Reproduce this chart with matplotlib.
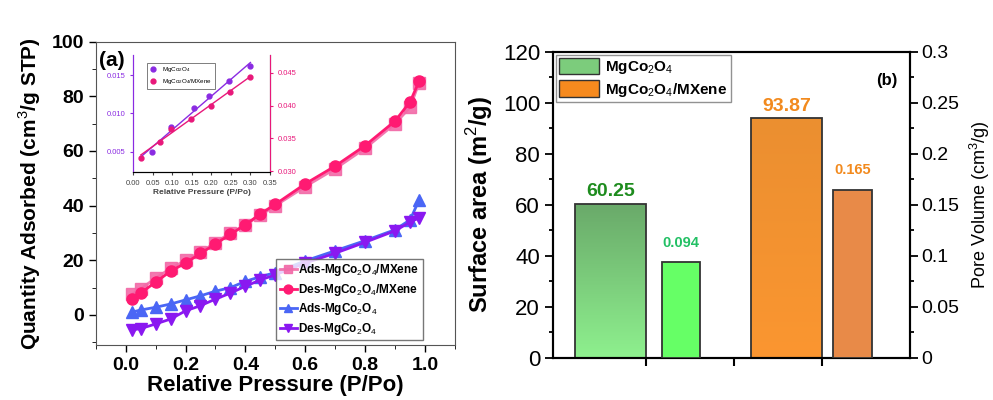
import numpy as np
import matplotlib
matplotlib.use("Agg")
import matplotlib.pyplot as plt
from matplotlib.colors import LinearSegmentedColormap
from matplotlib.patches import Patch

plt.rcParams['font.family'] = ['Liberation Sans', 'DejaVu Sans']
plt.rcParams['mathtext.fontset'] = 'custom'
plt.rcParams['mathtext.rm'] = 'Liberation Sans'
plt.rcParams['mathtext.bf'] = 'Liberation Sans:bold'

# isotherm data (panel a)
p = [0.02, 0.05, 0.1, 0.15, 0.2, 0.25, 0.3, 0.35, 0.4, 0.45, 0.5, 0.6, 0.7, 0.8, 0.9, 0.95, 0.98]
ads_mx = [7.5, 9.5, 13.5, 17, 20, 23, 26.5, 30, 33, 36.5, 40, 47, 53.5, 61, 70, 76, 85]
des_mx = [6, 8, 12, 16, 19, 22.5, 26, 29.5, 33, 37, 40.5, 48, 54.5, 62, 71, 78, 85.5]
ads_mg = [1, 1.8, 2.8, 4, 5.5, 7, 8.7, 10, 12.3, 14, 15.5, 19.8, 23.5, 27.2, 31.2, 34.8, 42]
des_mg = [-5.5, -5, -3.3, -1.5, 1.5, 3.4, 5.8, 8, 10.5, 12.8, 14.7, 19, 22.6, 26.6, 30.8, 34, 35.5]

# inset BET data
bet_x_mg = [0.049, 0.098, 0.156, 0.195, 0.246, 0.299]
bet_y_mg = [0.0050, 0.0082, 0.01065, 0.0123, 0.01426, 0.0162]
bet_x_mx = [0.021, 0.068, 0.098, 0.147, 0.198, 0.248, 0.299]
bet_y_mx = [0.0321, 0.0345, 0.0365, 0.0380, 0.0400, 0.0420, 0.0444]

# panel b
surface_area = [60.25, 93.87]
pore_volume = [0.094, 0.165]
samples = ['MgCo$_2$O$_4$', 'MgCo$_2$O$_4$/MXene']

fig = plt.figure(figsize=(9.93, 4.0), dpi=100)

# ---------- panel (a) ----------
ax = fig.add_axes([95.7/993, 1-345/400, (455-95.7)/993, (345-41.7)/400])
ax.plot(p, ads_mx, '-s', color='#f26aa8', ms=8, lw=2, alpha=0.9, label='Ads-MgCo$_2$O$_4$/MXene')
ax.plot(p, des_mx, '-o', color='#ff1a72', ms=8, lw=2, label='Des-MgCo$_2$O$_4$/MXene')
ax.plot(p, ads_mg, '-^', color='#4a66f5', ms=8, lw=2, label='Ads-MgCo$_2$O$_4$')
ax.plot(p, des_mg, '-v', color='#8a18f0', ms=8, lw=2, label='Des-MgCo$_2$O$_4$')
ax.set_xlim(-0.1, 1.1)
ax.set_ylim(-11, 100)
ax.set_xticks([0, 0.2, 0.4, 0.6, 0.8, 1.0])
ax.set_xticks(np.arange(-0.1, 1.1, 0.1), minor=True)
ax.set_yticks([0, 20, 40, 60, 80, 100])
ax.set_yticks([-10, 10, 30, 50, 70, 90], minor=True)
ax.tick_params(direction='out', labelsize=14, width=1, length=5)
ax.tick_params(which='minor', direction='out', length=3)
for lab in ax.get_xticklabels() + ax.get_yticklabels():
    lab.set_fontweight('bold')
for s in ax.spines.values():
    s.set_color('#555555')
ax.set_xlabel('Relative Pressure (P/Po)', fontsize=16, fontweight='bold', labelpad=1)
ax.set_ylabel('Quantity Adsorbed (cm$^3$/g STP)', fontsize=15, fontweight='bold', labelpad=6)
ax.text(0.01, 0.97, '(a)', transform=ax.transAxes, fontsize=15, fontweight='bold', va='top')
leg = ax.legend(loc='lower right', bbox_to_anchor=(0.91, 0.015), fontsize=8.5, frameon=True,
                fancybox=False, edgecolor='#555555', handlelength=1.4, handletextpad=0.15,
                borderpad=0.3, labelspacing=0.3, markerscale=0.8, borderaxespad=0)
for t in leg.get_texts():
    t.set_fontweight('bold')

# inset
ins = fig.add_axes([133/993, 1-172/400, 137/993, 117/400])
ins2 = ins.twinx()
ins.plot(bet_x_mg, bet_y_mg, 'o', color='#8a2be2', ms=3.5, label='MgCo$_2$O$_4$')
ins2.plot(bet_x_mx, bet_y_mx, 'o', color='#e8187a', ms=3.5, label='MgCo$_2$O$_4$/MXene')
fx = np.array([0.02, 0.3])
c1 = np.polyfit(bet_x_mg, bet_y_mg, 1)
c2 = np.polyfit(bet_x_mx, bet_y_mx, 1)
ins.plot(fx, np.polyval(c1, fx), color='#8a2be2', lw=1)
ins2.plot(fx, np.polyval(c2, fx), color='#e8187a', lw=1)
ins.set_xlim(0, 0.35)
ins.set_ylim(0.0024, 0.0176)
ins2.set_ylim(0.0299, 0.0477)
ins.set_xticks(np.arange(0, 0.36, 0.05))
ins.set_xticklabels(['%.2f' % v for v in np.arange(0, 0.36, 0.05)])
ins.set_yticks([0.005, 0.010, 0.015])
ins.set_yticklabels(['0.005', '0.010', '0.015'])
ins2.set_yticks([0.030, 0.035, 0.040, 0.045])
ins2.set_yticklabels(['0.030', '0.035', '0.040', '0.045'])
ins.tick_params(axis='x', labelsize=5.5, length=2, colors='#444444')
ins.tick_params(axis='y', labelsize=5.5, length=2, colors='#8a2be2')
ins2.tick_params(axis='y', labelsize=5.5, length=2, colors='#e8187a')
ins.spines['left'].set_color('#8a2be2')
ins2.spines['left'].set_color('#8a2be2')
ins2.spines['right'].set_color('#e8187a')
ins.spines['top'].set_visible(False)
ins2.spines['top'].set_visible(False)
ins.set_xlabel('Relative Pressure (P/Po)', fontsize=6, fontweight='bold', color='#444444', labelpad=2)
h1, l1 = ins.get_legend_handles_labels()
h2, l2 = ins2.get_legend_handles_labels()
ileg = ins2.legend(h1 + h2, l1 + l2, loc='upper left', bbox_to_anchor=(0.08, 0.96), fontsize=4.5,
                   fancybox=False, edgecolor='#444444', handlelength=1.2, borderpad=0.4)
ileg.get_frame().set_linewidth(0.6)

# ---------- panel (b) ----------
bx = fig.add_axes([553.3/993, 1-358/400, (910-553.3)/993, (358-51.7)/400])
bx2 = bx.twinx()
bx2.set_ylim(0, 0.3)

sa_pos = [0.6, 2.6]
pv_pos = [1.4, 3.35]
sa_cols = [('#6aaa6a', '#8ef08e'), ('#eb8f30', '#fb9630')]
pv_cols = ['#66ff66', '#e88a48']
sa_lab_cols = ['#1e8c1e', '#f28a1e']
pv_lab_cols = ['#22c064', '#f28a1e']

for i in range(2):
    bars = bx.bar(sa_pos[i], surface_area[i], width=0.8, color='none', edgecolor='#333333', lw=1.3, zorder=3)
    cmap = LinearSegmentedColormap.from_list('g', [sa_cols[i][1], sa_cols[i][0]])
    grad = np.linspace(0, 1, 100).reshape(-1, 1)
    im = bx.imshow(grad, cmap=cmap, origin='lower', aspect='auto',
                   extent=[sa_pos[i] - 0.4, sa_pos[i] + 0.4, 0, surface_area[i]], zorder=2)
    im.set_clip_path(bars[0])
    bx.text(sa_pos[i], surface_area[i] + 1.5, '%.2f' % surface_area[i], ha='center', va='bottom',
            fontsize=14, fontweight='bold', color=sa_lab_cols[i])
    bx2.bar(pv_pos[i], pore_volume[i], width=0.44, color=pv_cols[i], edgecolor='#333333', lw=1.3, zorder=3)
    bx2.text(pv_pos[i], pore_volume[i] + 0.012, '%.3f' % pore_volume[i], ha='center', va='bottom',
             fontsize=10.5, fontweight='bold', color=pv_lab_cols[i])
bx.set_xlim(-0.05, 4.0)
bx.set_ylim(0, 120)

bx.set_xticks([1, 2, 3])
bx.set_xticklabels([])
bx.set_yticks(np.arange(0, 121, 20))
bx.set_yticks(np.arange(10, 120, 20), minor=True)
bx.tick_params(axis='x', direction='out', length=6, width=1.5)
bx.tick_params(axis='y', direction='out', length=6, width=1.3, labelsize=16)
bx.tick_params(axis='y', which='minor', direction='out', length=3, width=1.3)
bx2.set_yticks([0, 0.05, 0.1, 0.15, 0.2, 0.25, 0.3])
bx2.set_yticklabels(['0', '0.05', '0.1', '0.15', '0.2', '0.25', '0.3'])
bx2.set_yticks(np.arange(0.025, 0.3, 0.05), minor=True)
bx2.tick_params(axis='y', direction='out', length=6, width=1.3, labelsize=14, pad=2)
bx2.tick_params(axis='y', which='minor', direction='out', length=3, width=1.3)
for a in (bx, bx2):
    for s in a.spines.values():
        s.set_linewidth(1.5)
bx.set_ylabel('Surface area (m$^2$/g)', fontsize=17, fontweight='bold', labelpad=6)
bx2.set_ylabel('Pore Volume (cm$^3$/g)', fontsize=13, labelpad=6)
bx.text(0.965, 0.93, '(b)', transform=bx.transAxes, ha='right', va='top', fontsize=12, fontweight='bold')

handles = [Patch(facecolor='#7ccc7c', edgecolor='#333333'), Patch(facecolor='#f68a1e', edgecolor='#333333')]
bleg = bx2.legend(handles, samples, loc='upper left', bbox_to_anchor=(0.0, 1.0), fontsize=11,
                  fancybox=False, edgecolor='#777777', handlelength=2.6, handleheight=1.3,
                  borderpad=0.2, labelspacing=0.25, handletextpad=0.4, borderaxespad=0.2)
for t in bleg.get_texts():
    t.set_fontweight('bold')

fig.savefig('out.png', dpi=100)
